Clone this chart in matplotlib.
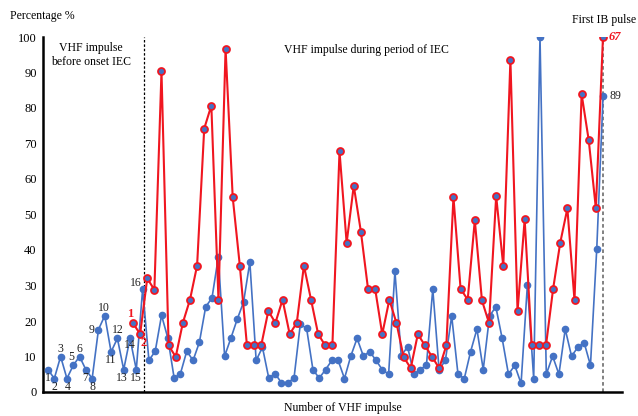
import matplotlib.pyplot as plt

plt.rcParams['font.family'] = ['Liberation Serif', 'DejaVu Serif']

# === Data ===
blue_vals = [6.3, 3.8, 10, 3.8, 7.5, 10, 6.3, 3.8, 17.6, 21.5, 11.3, 15.1, 6.3, 15.1, 6.3, 29,
             8.9, 11.5, 21.6, 15.2, 3.9, 5.2, 11.5, 8.9, 14, 24, 26.5, 38,
             10.1, 15.2, 20.5, 25.3, 36.6, 8.9, 12.6, 3.9, 5.2, 2.6, 2.6, 3.9,
             19.1, 17.9, 6.3, 3.9, 6.3, 8.9, 8.9, 3.8, 10.1, 15.1,
             10.1, 11.4, 8.9, 6.3, 5, 34, 10.1, 12.8, 5, 6.3,
             7.6, 29, 6.3, 8.9, 21.4, 5, 3.8, 11.4, 17.7, 6.3,
             21.4, 24, 15.1, 5, 7.5, 2.4, 30.2, 3.8, 100, 5,
             10.1, 5, 17.7, 10.1, 12.6, 13.9, 7.5, 40.4, 83.4]
red_vals = [19.4, 16.3, 32, 28.8, 90.3, 13.1, 9.9, 19.5, 26, 35.6,
            74.2, 80.7, 26, 96.7, 54.9, 35.6, 13.1, 13.1, 13.1, 22.8,
            19.5, 26, 16.3, 19.5, 35.6, 26, 16.3, 13.1, 13.1, 67.8,
            42, 58.1, 45.2, 29.1, 29.1, 16.3, 26, 19.4, 9.9, 6.7,
            16.3, 13.1, 9.9, 6.7, 13.1, 54.9, 29.1, 26, 48.4, 25.8,
            19.4, 55.2, 35.4, 93.6, 22.7, 48.6, 13.2, 13.2, 13.2, 29.1,
            42.1, 51.7, 25.8, 83.9, 70.9, 51.7, 100]
blue_x = list(range(1, len(blue_vals) + 1))
red_x = list(range(1, len(red_vals) + 1))

# label offsets (pixels) for the first 16 blue points
blue_label_off = [(0, -8), (0, -8), (0, 8), (1, -8), (-2, 8), (0, 8), (-1, -8), (0, -8),
                  (-7, 0), (-1, 8), (0, -8), (0, 8), (-2, -8), (0, -7), (0, -8), (-7, 6)]

blue = '#4472C4'
red = '#f01620'

fig = plt.figure(figsize=(6.38, 4.16), dpi=100)
ax = fig.add_axes([43 / 638, 24 / 416, 579 / 638, 355 / 416])
ax.set_xlim(0.207, 92.0)
ax.set_ylim(0, 100)

ax.plot(blue_x, blue_vals, color=blue, lw=1.2, marker='o', ms=4.5, mfc=blue, mec=blue, zorder=3)

for i, (dx, dy) in enumerate(blue_label_off):
    ax.annotate(str(i + 1), (blue_x[i], blue_vals[i]), xytext=(dx, dy),
                textcoords='offset pixels', ha='center', va='center', fontsize=8.5, color='#222222')
ax.annotate('89', (blue_x[-1], blue_vals[-1]), xytext=(6, 0), textcoords='offset pixels',
            ha='left', va='center', fontsize=8.5, color='#222222')

# dashed separators
ax.plot([16.27, 16.27], [0, 100], color='black', lw=0.9, ls=(0, (2, 1.5)), zorder=2)
ax.plot([89, 89], [0, 100], color='#777777', lw=1.3, ls=(0, (2, 1.5)), zorder=2)

for s in ['top', 'right']:
    ax.spines[s].set_visible(False)
for s in ['left', 'bottom']:
    ax.spines[s].set_linewidth(1.8)
ax.set_xticks([])
ax.set_yticks(range(0, 101, 10))
ax.tick_params(axis='y', length=0, pad=4.5, labelsize=9)

# red series on its own x scale
ax2 = ax.twiny()
ax2.set_xlim(-11.64, 69.67)
ax2.set_xticks([])
for s in ax2.spines.values():
    s.set_visible(False)
ax2.plot(red_x, red_vals, color=red, lw=1.5, marker='o', ms=5, mfc=blue, mec=red, mew=1.3, zorder=4)
ax2.annotate('1', (red_x[0], red_vals[0]), xytext=(-3, 9), textcoords='offset pixels',
             ha='center', va='center', fontsize=9, color=red, fontweight='bold')
ax2.annotate('2', (red_x[1], red_vals[1]), xytext=(3, -9), textcoords='offset pixels',
             ha='center', va='center', fontsize=9, color=red, fontweight='bold')
ax2.annotate('67', (red_x[-1], red_vals[-1]), xytext=(6, 0), textcoords='offset pixels',
             ha='left', va='center', fontsize=9, color=red, fontweight='bold', style='italic')

# texts
fig.text(10 / 638, 1 - 16 / 416, 'Percentage %', ha='left', va='center', fontsize=8.5)
fig.text(91 / 638, 1 - 55 / 416, 'VHF impulse\nbefore onset IEC', ha='center', va='center',
         fontsize=8.5, linespacing=1.2)
fig.text(366 / 638, 1 - 50 / 416, 'VHF impulse during period of IEC', ha='center', va='center', fontsize=8.5)
fig.text(636 / 638, 1 - 20 / 416, 'First IB pulse', ha='right', va='center', fontsize=8.5)
fig.text(343 / 638, 1 - 408 / 416, 'Number of VHF impulse', ha='center', va='center', fontsize=8.5)

fig.savefig('out.png', dpi=100)
